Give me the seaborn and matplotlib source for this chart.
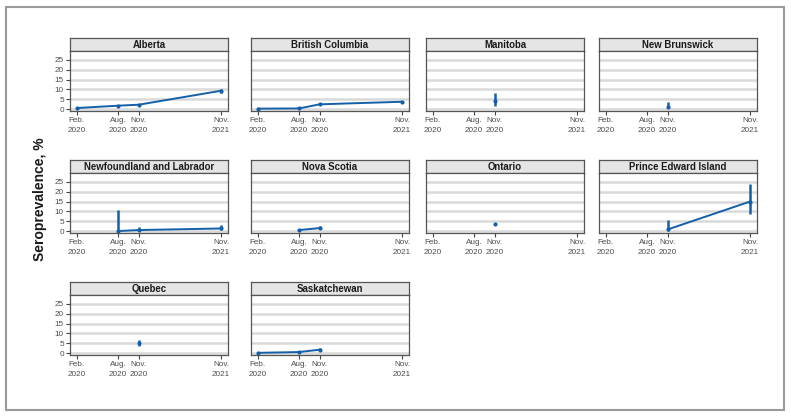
import pandas as pd
import matplotlib
matplotlib.use("Agg")
import matplotlib.pyplot as plt
from matplotlib.patches import Rectangle
import seaborn as sns

# Reihenfolge der Panels (4 Spalten)
panel_order = ["Alberta", "British Columbia", "Manitoba", "New Brunswick",
               "Newfoundland and Labrador", "Nova Scotia", "Ontario",
               "Prince Edward Island", "Quebec", "Saskatchewan"]

# Langformat: Provinz, Zeitpunkt, Seroprävalenz und Konfidenzintervall (%)
province = (["Alberta"] * 4 + ["British Columbia"] * 4 + ["Manitoba"]
            + ["New Brunswick"] + ["Newfoundland and Labrador"] * 3
            + ["Nova Scotia"] * 2 + ["Ontario"] + ["Prince Edward Island"] * 2
            + ["Quebec"] + ["Saskatchewan"] * 3)
period = ["2020-02", "2020-08", "2020-11", "2021-11",
          "2020-02", "2020-08", "2020-11", "2021-11",
          "2020-11",
          "2020-11",
          "2020-08", "2020-11", "2021-11",
          "2020-08", "2020-11",
          "2020-11",
          "2020-11", "2021-11",
          "2020-11",
          "2020-02", "2020-08", "2020-11"]
prevalence = [0.5, 1.7, 2.2, 9.3,
              0.2, 0.3, 2.4, 3.7,
              4.2,
              0.8,
              0.0, 0.5, 1.3,
              0.5, 1.5,
              3.8,
              0.8, 15.0,
              5.2,
              0.1, 0.5, 1.7]
lower = [0.3, 1.3, 1.8, 8.4,
         0.1, 0.2, 1.9, 3.1,
         1.7,
         0.4,
         0.0, 0.0, 0.3,
         0.2, 0.8,
         3.4,
         0.0, 8.8,
         3.7,
         0.0, 0.2, 1.2]
upper = [0.8, 2.1, 2.7, 10.3,
         0.4, 0.6, 2.9, 4.3,
         8.1,
         3.5,
         10.5, 2.0, 3.3,
         1.0, 2.5,
         4.3,
         5.7, 23.7,
         6.6,
         0.4, 0.9, 2.4]

tick_periods = ["2020-02", "2020-08", "2020-11", "2021-11"]
tick_labels = ["Feb.\n2020", "Aug.\n2020", "Nov.\n2020", "Nov.\n2021"]
y_ticks = [0, 5, 10, 15, 20, 25]


def months_since_start(p):
    d = pd.to_datetime(pd.Series(p))
    return ((d.dt.year - 2020) * 12 + d.dt.month - 2).tolist()


df = pd.DataFrame({"province": province, "period": period,
                   "prev": prevalence, "lo": lower, "hi": upper})
df["month"] = months_since_start(df["period"])
tick_pos = months_since_start(tick_periods)

sns.set_theme(style="white")
plt.rcParams["font.family"] = ["Liberation Sans", "DejaVu Sans"]

blue = "#1460a8"
W, H = 791, 417
fig = plt.figure(figsize=(W / 100, H / 100), dpi=100)

col_left = [70, 251, 426, 599]
row_top = [38, 160, 282]
panel_w, strip_h, plot_h = 158, 13, 60

for i, name in enumerate(panel_order):
    r, c = divmod(i, 4)
    x0, y0 = col_left[c], row_top[r]
    # Streifen mit Titel
    sax = fig.add_axes([x0 / W, 1 - (y0 + strip_h) / H, panel_w / W, strip_h / H])
    sax.set_facecolor("#e5e5e5")
    sax.set_xticks([])
    sax.set_yticks([])
    for s in sax.spines.values():
        s.set_color("#555555")
        s.set_linewidth(0.9)
    sax.text(0.5, 0.47, name, ha="center", va="center", fontsize=6.9,
             fontweight="bold", color="#1a1a1a", transform=sax.transAxes)

    ax = fig.add_axes([x0 / W, 1 - (y0 + strip_h + plot_h) / H, panel_w / W, plot_h / H])
    sub = df[df["province"] == name]
    ax.vlines(sub["month"], sub["lo"], sub["hi"], color=blue, lw=1.8, zorder=3)
    if len(sub) > 1:
        sns.lineplot(data=sub, x="month", y="prev", color=blue, lw=1.4,
                     estimator=None, ax=ax, zorder=4)
    sns.scatterplot(data=sub, x="month", y="prev", color=blue, s=9,
                    linewidth=0, ax=ax, zorder=5)

    ax.set_xlim(-1, 22)
    ax.set_ylim(-1, 29.5)
    ax.set_xticks(tick_pos)
    ax.set_xticklabels(tick_labels, fontsize=5.9, color="#4d4d4d", linespacing=1.5)
    ax.set_yticks(y_ticks)
    ax.yaxis.grid(True, color="#d9d9d9", lw=1.8, zorder=0)
    ax.set_axisbelow(True)
    ax.tick_params(axis="x", length=3, width=0.8, color="#444444", pad=1.5,
                   bottom=True)
    if c == 0:
        ax.set_yticklabels([str(v) for v in y_ticks], fontsize=5.9, color="#4d4d4d")
        ax.tick_params(axis="y", length=3, width=0.8, color="#444444", pad=1.5,
                       left=True)
    else:
        ax.set_yticklabels([])
        ax.tick_params(axis="y", length=0)
    ax.set_xlabel("")
    ax.set_ylabel("")
    for s in ax.spines.values():
        s.set_color("#555555")
        s.set_linewidth(0.9)

fig.text(40 / W, 1 - 199 / H, "Seroprevalence, %", rotation=90, ha="center",
         va="center", fontsize=10, fontweight="bold", color="#1a1a1a")

fig.patches.append(Rectangle((6 / W, 7 / H), 778 / W, 403 / H, transform=fig.transFigure,
                             fill=False, edgecolor="#9a9a9a", lw=1.5))

fig.savefig("out.png", dpi=100)
